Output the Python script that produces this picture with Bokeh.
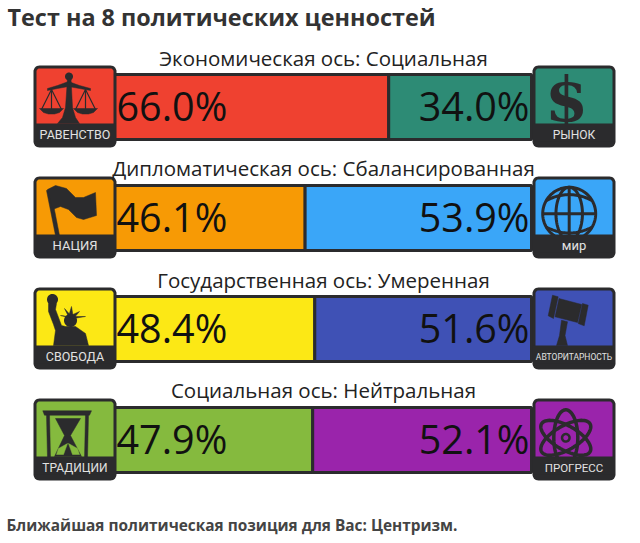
import numpy as np
from bokeh.core.properties import value
from bokeh.embed import file_html
from bokeh.models import Range1d
from bokeh.plotting import figure
from bokeh.resources import INLINE

# data
title = "Тест на 8 политических ценностей"
footer = "Ближайшая политическая позиция для Вас: Центризм."
axis_names = ["Экономическая ось: Социальная", "Дипломатическая ось: Сбалансированная",
              "Государственная ось: Умеренная", "Социальная ось: Нейтральная"]
left_values = [66.0, 46.1, 48.4, 47.9]
right_values = [34.0, 53.9, 51.6, 52.1]
left_names = ["РАВЕНСТВО", "НАЦИЯ", "СВОБОДА", "ТРАДИЦИИ"]
right_names = ["РЫНОК", "мир", "АВТОРИТАРНОСТЬ", "ПРОГРЕСС"]
left_colors = ["#ef4130", "#f79a05", "#fce815", "#85ba3e"]
right_colors = ["#2d8b75", "#3aa6f8", "#3f51b5", "#9a24ab"]

# layout, in page pixels
row_tops = [65, 176, 287, 398]
title_ys = [57.5, 167.5, 279.5, 389.5]
left_sizes = [12.5, 13, 12.5, 12]
right_sizes = [12, 13, 8.5, 11.5]
DARK = "#2b2b2d"
BOX_W = 83
BOX_H = 82
LEFT_BOX = 33
RIGHT_BOX = 532
PX_PER_PCT = 4.2
PCT_ZERO = 111

p = figure(width=624, height=535, output_backend="svg", toolbar_location=None,
           x_range=Range1d(0, 624), y_range=Range1d(535, 0),
           x_axis_location=None, y_axis_location=None, min_border=0)
p.grid.visible = False
p.outline_line_color = None
p.extra_x_ranges["pct"] = Range1d(-PCT_ZERO / PX_PER_PCT, (624 - PCT_ZERO) / PX_PER_PCT)


def rounded(x0, y0, x1, y1, r):
    # outline of a rounded box
    xs, ys = [], []
    corners = [(x1 - r, y0 + r, -90), (x1 - r, y1 - r, 0), (x0 + r, y1 - r, 90), (x0 + r, y0 + r, 180)]
    for cx, cy, start in corners:
        t = np.radians(np.linspace(start, start + 90, 8))
        xs += list(cx + r * np.cos(t))
        ys += list(cy + r * np.sin(t))
    return xs, ys


def shape(ox, oy, pts, color=DARK):
    # polygon given relative to the icon's corner
    p.patch([ox + a for a, b in pts], [oy + b for a, b in pts], fill_color=color, line_color=color, line_width=0.5)


def stroke(ox, oy, pts, width=3, color=DARK):
    p.line([ox + a for a, b in pts], [oy + b for a, b in pts], line_color=color, line_width=width)


def ring(ox, oy, cx, cy, w, h, angle=0, width=3, color=DARK):
    t = np.linspace(0, 2 * np.pi, 80)
    a = np.radians(angle)
    ex = w / 2 * np.cos(t)
    ey = h / 2 * np.sin(t)
    xs = ox + cx + ex * np.cos(a) - ey * np.sin(a)
    ys = oy + cy + ex * np.sin(a) + ey * np.cos(a)
    p.line(xs, ys, line_color=color, line_width=width)


def disc(ox, oy, cx, cy, r, color=DARK):
    t = np.linspace(0, 2 * np.pi, 40)
    p.patch(ox + cx + r * np.cos(t), oy + cy + r * np.sin(t), fill_color=color, line_color=None)


def scales(ox, oy, bg):
    disc(ox, oy, 35.5, 11, 4)
    shape(ox, oy, [(34, 13), (37.5, 13), (39, 42), (42, 52), (46, 58), (24, 58), (29, 52), (32, 42)])
    shape(ox, oy, [(14, 23), (24, 20), (35, 16), (46, 20), (57, 23), (57, 25), (46, 23), (35, 21), (24, 23), (14, 25)])
    for c in (18, 52):
        stroke(ox, oy, [(c - 10, 44), (c, 24), (c + 10, 44)], 1.2)
        stroke(ox, oy, [(c, 24), (c, 44)], 1.2)
        shape(ox, oy, [(c - 12, 43), (c + 12, 43), (c + 8, 47), (c + 3, 48.5), (c - 3, 48.5), (c - 8, 47)])


def flag(ox, oy, bg):
    shape(ox, oy, [(13, 14), (17, 13), (26, 59), (22, 59)])
    shape(ox, oy, [(14, 13), (22, 9), (33, 12), (42, 21), (50, 21), (62, 16), (63, 39), (50, 43), (43, 41),
                   (35, 33), (27, 30), (19, 33)])


def dollar(ox, oy, bg):
    p.text([ox + 34], [oy + 34], text=["$"], text_font=value("DejaVu Serif"), text_font_style="bold",
           text_font_size="62px", text_align="center", text_baseline="middle", text_color=DARK)


def globe(ox, oy, bg):
    cx, cy, r = 36.7, 37.3, 26.5
    ring(ox, oy, cx, cy, 2 * r, 2 * r)
    ring(ox, oy, cx, cy, r, 2 * r)
    stroke(ox, oy, [(cx, cy - r), (cx, cy + r)])
    stroke(ox, oy, [(cx - r, cy), (cx + r, cy)])
    for sign in (-1, 1):
        xs = np.linspace(-0.87, 0.87, 30)
        arc = sign * (r * 0.5 + r * 0.3 * (xs ** 2 - 0.75) * -1)
        p.line(ox + cx + xs * r, oy + cy + arc, line_color=DARK, line_width=3)


def gavel(ox, oy, bg):
    shape(ox, oy, [(20, 7.7), (25.7, 9.3), (21, 31), (15.7, 28.3)])
    shape(ox, oy, [(50, 16), (55.7, 17.7), (51.7, 38.3), (45.7, 36)])
    shape(ox, oy, [(26.5, 11), (49.2, 17), (45, 35), (22.5, 29.3)])
    shape(ox, oy, [(29, 32.7), (35, 34.3), (32.5, 48), (35, 58), (24, 58), (27, 48)])


def statue(ox, oy, bg):
    disc(ox, oy, 19, 12, 5.5)
    shape(ox, oy, [(15, 16), (23, 16), (22, 22), (28, 38), (32, 39), (42, 39), (52, 46), (55, 58), (20, 58),
                   (22, 43), (20, 37), (15, 24)])
    disc(ox, oy, 37, 33, 6.5)
    for tx, ty in [(27, 28), (31, 21), (38, 19), (46, 24), (52, 29)]:
        shape(ox, oy, [(35, 29), (tx, ty), (40, 31)])


def hourglass(ox, oy, bg):
    shape(ox, oy, [(9.3, 12.3), (58, 12.3), (56, 16.7), (11, 16.7)])
    shape(ox, oy, [(13, 16), (16, 16), (17, 60), (14, 60)])
    shape(ox, oy, [(52, 16), (55, 16), (54, 60), (51, 60)])
    shape(ox, oy, [(22, 20), (47, 20), (37, 37), (48, 58), (21, 58), (31, 37)])
    shape(ox, oy, [(34, 45), (30, 56), (23, 56), (25, 50)], bg)
    shape(ox, oy, [(35, 45), (39, 56), (46, 56), (44, 50)], bg)


def atom(ox, oy, bg):
    ring(ox, oy, 33.3, 39.3, 24, 56, 0, 3.5)
    ring(ox, oy, 33.3, 39.3, 24, 56, 60, 3.5)
    ring(ox, oy, 33.3, 39.3, 24, 56, -60, 3.5)
    disc(ox, oy, 33.3, 39.3, 5)
    disc(ox, oy, 33.3, 39.3, 2.5, bg)


left_icons = [scales, flag, statue, hourglass]
right_icons = [dollar, globe, gavel, atom]


def icon_box(ox, oy, color, draw, name, size):
    p.patch(*rounded(ox, oy, ox + BOX_W, oy + BOX_H, 6), fill_color=DARK, line_color=None)
    p.patch(*rounded(ox + 3, oy + 3, ox + BOX_W - 3, oy + 62, 3), fill_color=color, line_color=None)
    draw(ox, oy, color)
    p.quad(left=[ox + 0.5], right=[ox + BOX_W - 0.5], top=[oy + 58], bottom=[oy + BOX_H - 6], fill_color=DARK, line_color=None)
    p.text([ox + BOX_W / 2], [oy + 69], text=[name], text_font=value("Roboto"), text_font_size=f"{size}px",
           text_align="center", text_baseline="middle", text_color="#e2e2e2")


# split bars on the percent scale
tops = [t + 9 for t in row_tops]
bottoms = [t + 74 for t in row_tops]
splits = [100 - v for v in right_values]
p.quad(left=[0] * 4, right=left_values, top=tops, bottom=bottoms, fill_color=left_colors,
       line_color=DARK, line_width=3, x_range_name="pct")
p.quad(left=splits, right=[100] * 4, top=tops, bottom=bottoms, fill_color=right_colors,
       line_color=DARK, line_width=3, x_range_name="pct")

for i in range(4):
    icon_box(LEFT_BOX, row_tops[i], left_colors[i], left_icons[i], left_names[i], left_sizes[i])
    icon_box(RIGHT_BOX, row_tops[i], right_colors[i], right_icons[i], right_names[i], right_sizes[i])

mids = [t + 40 for t in row_tops]
p.text([116] * 4, mids, text=[f"{v:.1f}%" for v in left_values], text_font=value("Open Sans"),
       text_font_size="39.5px", text_baseline="middle", text_color="#111111")
p.text([529] * 4, mids, text=[f"{v:.1f}%" for v in right_values], text_font=value("Open Sans"),
       text_font_size="39.5px", text_align="right", text_baseline="middle", text_color="#111111")
p.text([323] * 4, title_ys, text=axis_names, text_font=value("Open Sans"), text_font_size="20.5px",
       text_align="center", text_baseline="middle", text_color="#222222")
p.text([7], [16], text=[title], text_font=value("Open Sans"), text_font_style="bold", text_font_size="23.4px",
       text_baseline="middle", text_color="#333333")
p.text([6], [525], text=[footer], text_font=value("Open Sans"), text_font_style="bold", text_font_size="15.4px",
       text_baseline="middle", text_color="#444444")

open("out.html", "w").write(file_html(p, INLINE))
